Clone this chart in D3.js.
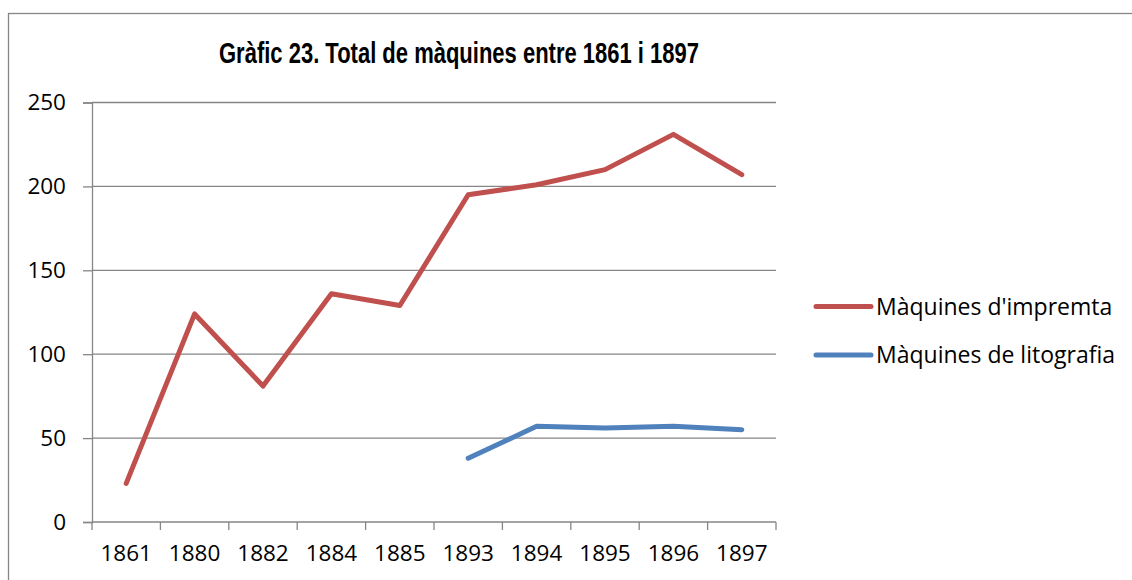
<!DOCTYPE html>
<html>
<head>
<meta charset="utf-8">
<script src="https://cdn.jsdelivr.net/npm/d3@7"></script>
<style>
  html, body { margin: 0; padding: 0; background: #fff; }
  svg { display: block; }
</style>
</head>
<body>
<svg id="chart" width="1132" height="580"></svg>
<script>
const years = ['1861', '1880', '1882', '1884', '1885', '1893', '1894', '1895', '1896', '1897'];
const impremta = [23, 124, 81, 136, 129, 195, 201, 210, 231, 207];
const litografia = [null, null, null, null, null, 38, 57, 56, 57, 55];
const yTicks = [0, 50, 100, 150, 200, 250];
const seriesNames = ["Màquines d'impremta", 'Màquines de litografia'];
const seriesColors = ['#C0504D', '#4F81BD'];
const title = 'Gràfic 23. Total de màquines entre 1861 i 1897';

const width = 1132;
const height = 580;
const margin = { top: 102.5, right: 356, bottom: 58, left: 92 };
const innerW = width - margin.left - margin.right;
const innerH = height - margin.top - margin.bottom;
const labelFont = '"Open Sans", "Noto Sans", sans-serif';
const grey = '#868686';

const svg = d3.select('#chart');

// outer chart frame, runs off the right and bottom edges
svg.append('rect')
  .attr('x', 8.5)
  .attr('y', 13.5)
  .attr('width', 1200)
  .attr('height', 700)
  .attr('fill', '#fff')
  .attr('stroke', grey)
  .attr('stroke-width', 1.3);

svg.append('text')
  .attr('x', 459)
  .attr('y', 63)
  .attr('text-anchor', 'middle')
  .attr('textLength', 480)
  .attr('lengthAdjust', 'spacingAndGlyphs')
  .style('font-family', 'Arial, "Liberation Sans", sans-serif')
  .style('font-weight', 'bold')
  .style('font-size', '29px')
  .text(title);

const x = d3.scaleBand().domain(years).range([0, innerW]);
const y = d3.scaleLinear().domain([0, 250]).range([innerH, 0]);

const g = svg.append('g')
  .attr('transform', `translate(${margin.left},${margin.top})`);

// horizontal gridlines
g.append('g')
  .selectAll('line')
  .data(yTicks.filter(d => d > 0))
  .enter().append('line')
  .attr('x1', 0)
  .attr('x2', innerW)
  .attr('y1', d => y(d))
  .attr('y2', d => y(d))
  .attr('stroke', grey)
  .attr('stroke-width', 1.3);

const yAxis = g.append('g')
  .call(d3.axisLeft(y).tickValues(yTicks).tickSize(9).tickPadding(17).tickFormat(d3.format('d')));

const xAxis = g.append('g')
  .attr('transform', `translate(0,${innerH})`)
  .call(d3.axisBottom(x).tickSize(0).tickPadding(23));

// category boundary ticks
g.append('g')
  .selectAll('line')
  .data(d3.range(years.length + 1))
  .enter().append('line')
  .attr('x1', i => i * x.step())
  .attr('x2', i => i * x.step())
  .attr('y1', innerH)
  .attr('y2', innerH + 8)
  .attr('stroke', grey)
  .attr('stroke-width', 1.3);

[yAxis, xAxis].forEach(ax => {
  ax.select('.domain').attr('stroke', grey).attr('stroke-width', 1.3);
  ax.selectAll('.tick line').attr('stroke', grey).attr('stroke-width', 1.3);
  ax.selectAll('.tick text')
    .attr('fill', '#000')
    .style('font-family', labelFont)
    .style('font-size', '22.5px');
});
xAxis.select('.domain').attr('d', `M0,0H${innerW}`);

const line = d3.line()
  .defined(d => d != null)
  .x((d, i) => x(years[i]) + x.bandwidth() / 2)
  .y(d => y(d));

[impremta, litografia].forEach((series, k) => {
  g.append('path')
    .datum(series)
    .attr('fill', 'none')
    .attr('stroke', seriesColors[k])
    .attr('stroke-width', 5)
    .attr('stroke-linejoin', 'round')
    .attr('stroke-linecap', 'round')
    .attr('d', line);
});

// legend
const legend = svg.append('g')
  .selectAll('g')
  .data(seriesNames)
  .enter().append('g')
  .attr('transform', (d, i) => `translate(816,${306.5 + i * 48.5})`);

legend.append('line')
  .attr('x1', 0)
  .attr('x2', 55)
  .attr('stroke', (d, i) => seriesColors[i])
  .attr('stroke-width', 5)
  .attr('stroke-linecap', 'round');

legend.append('text')
  .attr('x', 60)
  .attr('dy', '0.35em')
  .style('font-family', labelFont)
  .style('font-size', '23px')
  .text(d => d);
</script>
</body>
</html>
